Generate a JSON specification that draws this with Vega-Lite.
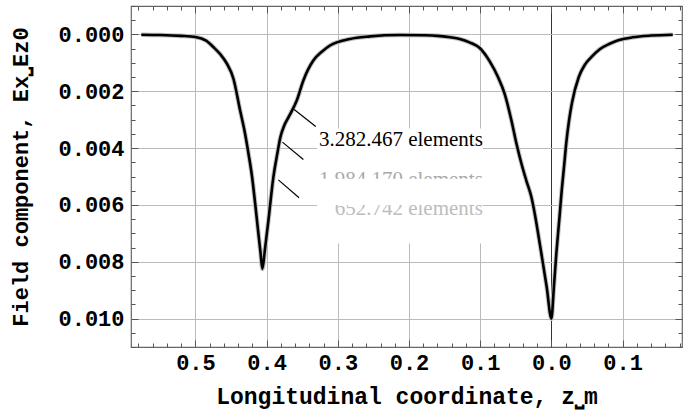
{
  "$schema": "https://vega.github.io/schema/vega-lite/v6.json",
  "width": 551,
  "height": 341,
  "autosize": {"type": "none"},
  "padding": {"left": 131, "top": 6, "right": 9, "bottom": 65},
  "background": "white",
  "config": {
    "view": {"stroke": "#666", "strokeWidth": 1.2},
    "axis": {
      "domain": false,
      "labelFont": "Liberation Mono",
      "labelFontWeight": "bold",
      "labelFontSize": 22,
      "labelColor": "black",
      "titleFont": "Liberation Mono",
      "titleFontWeight": "bold",
      "titleFontSize": 22,
      "titleColor": "black",
      "tickColor": "#555",
      "tickWidth": 1,
      "gridColor": "#bbb",
      "gridWidth": 1
    }
  },
  "datasets": {
    "curve": [
      {"z": -0.576, "Ex": -0.00001},
      {"z": -0.55, "Ex": -0.00002},
      {"z": -0.52, "Ex": -0.00005},
      {"z": -0.5, "Ex": -0.00009},
      {"z": -0.485, "Ex": -0.00022},
      {"z": -0.4746, "Ex": -0.00045},
      {"z": -0.465, "Ex": -0.0007},
      {"z": -0.4558, "Ex": -0.00103},
      {"z": -0.4466, "Ex": -0.00156},
      {"z": -0.4372, "Ex": -0.00268},
      {"z": -0.431, "Ex": -0.0034},
      {"z": -0.4255, "Ex": -0.00419},
      {"z": -0.4205, "Ex": -0.005},
      {"z": -0.4161, "Ex": -0.00595},
      {"z": -0.412, "Ex": -0.0069},
      {"z": -0.4085, "Ex": -0.0077},
      {"z": -0.4059, "Ex": -0.00825},
      {"z": -0.4025, "Ex": -0.0076},
      {"z": -0.3975, "Ex": -0.00655},
      {"z": -0.3905, "Ex": -0.00502},
      {"z": -0.385, "Ex": -0.0042},
      {"z": -0.3805, "Ex": -0.0036},
      {"z": -0.3755, "Ex": -0.00322},
      {"z": -0.3694, "Ex": -0.00292},
      {"z": -0.3576, "Ex": -0.00232},
      {"z": -0.3484, "Ex": -0.00162},
      {"z": -0.3344, "Ex": -0.00092},
      {"z": -0.322, "Ex": -0.0006},
      {"z": -0.311, "Ex": -0.00039},
      {"z": -0.283, "Ex": -0.00016},
      {"z": -0.255, "Ex": -0.00007},
      {"z": -0.213, "Ex": -0.00002},
      {"z": -0.18, "Ex": -0.00003},
      {"z": -0.16, "Ex": -0.00005},
      {"z": -0.1426, "Ex": -0.0001},
      {"z": -0.1286, "Ex": -0.00016},
      {"z": -0.115, "Ex": -0.00028},
      {"z": -0.1006, "Ex": -0.00048},
      {"z": -0.0866, "Ex": -0.00095},
      {"z": -0.075, "Ex": -0.0015},
      {"z": -0.0655, "Ex": -0.0021},
      {"z": -0.0561, "Ex": -0.00303},
      {"z": -0.049, "Ex": -0.00385},
      {"z": -0.042, "Ex": -0.00455},
      {"z": -0.0351, "Ex": -0.00515},
      {"z": -0.028, "Ex": -0.00573},
      {"z": -0.0234, "Ex": -0.0063},
      {"z": -0.018, "Ex": -0.0071},
      {"z": -0.014, "Ex": -0.00772},
      {"z": -0.0065, "Ex": -0.0089},
      {"z": 0.0, "Ex": -0.01},
      {"z": 0.0035, "Ex": -0.0089},
      {"z": 0.007, "Ex": -0.0077},
      {"z": 0.0115, "Ex": -0.0064},
      {"z": 0.0145, "Ex": -0.0055},
      {"z": 0.018, "Ex": -0.0046},
      {"z": 0.021, "Ex": -0.0038},
      {"z": 0.025, "Ex": -0.003},
      {"z": 0.029, "Ex": -0.0024},
      {"z": 0.0385, "Ex": -0.0015},
      {"z": 0.047, "Ex": -0.00107},
      {"z": 0.0561, "Ex": -0.0008},
      {"z": 0.068, "Ex": -0.00052},
      {"z": 0.0818, "Ex": -0.00033},
      {"z": 0.095, "Ex": -0.0002},
      {"z": 0.1144, "Ex": -0.0001},
      {"z": 0.14, "Ex": -0.00004},
      {"z": 0.1705, "Ex": -0.00001}
    ],
    "box": [{"z1": -0.329, "z2": -0.0963, "e1": -0.00331, "e2": -0.00736}],
    "mask": [{"z1": -0.329, "z2": -0.0963, "e1": -0.00508, "e2": -0.006}],
    "leaders": [
      {"z1": -0.3613, "e1": -0.00264, "z2": -0.331, "e2": -0.00324},
      {"z1": -0.3778, "e1": -0.00379, "z2": -0.3484, "e2": -0.0044},
      {"z1": -0.3835, "e1": -0.00512, "z2": -0.3544, "e2": -0.00575}
    ],
    "labels": [
      {"z": -0.0963, "Ex": -0.0037, "text": "3.282.467 elements", "shade": "a"},
      {"z": -0.0963, "Ex": -0.00512, "text": "1.984.170 elements", "shade": "b"},
      {"z": -0.0963, "Ex": -0.00613, "text": "652.742 elements", "shade": "c"}
    ]
  },
  "resolve": {"axis": {"x": "independent", "y": "independent"}},
  "layer": [
    {
      "data": {"name": "box"},
      "mark": {"type": "rect", "fill": "white"},
      "encoding": {
        "x": {
          "field": "z1", "type": "quantitative",
          "scale": {"domain": [-0.5905, 0.1835], "nice": false, "zero": false},
          "axis": {
            "orient": "bottom",
            "title": "Longitudinal coordinate, z⎵m",
            "titleFontSize": 23,
            "values": [-0.5, -0.4, -0.3, -0.2, -0.1, 0, 0.1],
            "tickSize": -7,
            "labelPadding": 12,
            "titlePadding": 12,
            "grid": true,
            "gridColor": {"condition": {"test": "datum.value === 0", "value": "#333"}, "value": "#bbb"},
            "labelExpr": "datum.value < 0 ? '\u00a0' + format(-datum.value, '.1f') : format(datum.value, '.1f')"
          }
        },
        "x2": {"field": "z2"},
        "y": {
          "field": "e1", "type": "quantitative",
          "scale": {"domain": [-0.011, 0.001], "nice": false, "zero": false},
          "axis": {
            "orient": "left",
            "title": "Field component, Ex⎵Ez0",
            "values": [-0.01, -0.008, -0.006, -0.004, -0.002, 0],
            "tickSize": -7,
            "labelPadding": 14,
            "titlePadding": 25,
            "grid": true,
            "labelExpr": "format(abs(datum.value), '.3f')"
          }
        },
        "y2": {"field": "e2"}
      }
    },
    {
      "data": {"name": "curve"},
      "mark": {"type": "line", "stroke": "#c0c0c0", "strokeWidth": 4.6, "interpolate": "monotone"},
      "encoding": {
        "x": {
          "field": "z", "type": "quantitative",
          "scale": {"domain": [-0.5905, 0.1835], "nice": false, "zero": false},
          "axis": {
            "orient": "bottom", "title": null, "labels": false, "grid": false, "tickSize": -4,
            "values": [-0.58, -0.56, -0.54, -0.52, -0.5, -0.48, -0.46, -0.44, -0.42, -0.4, -0.38, -0.36, -0.34, -0.32, -0.3, -0.28, -0.26, -0.24, -0.22, -0.2, -0.18, -0.16, -0.14, -0.12, -0.1, -0.08, -0.06, -0.04, -0.02, 0, 0.02, 0.04, 0.06, 0.08, 0.1, 0.12, 0.14, 0.16, 0.18]
          }
        },
        "y": {
          "field": "Ex", "type": "quantitative",
          "scale": {"domain": [-0.011, 0.001], "nice": false, "zero": false},
          "axis": {
            "orient": "left", "title": null, "labels": false, "grid": false, "tickSize": -4,
            "values": [-0.011, -0.0105, -0.01, -0.0095, -0.009, -0.0085, -0.008, -0.0075, -0.007, -0.0065, -0.006, -0.0055, -0.005, -0.0045, -0.004, -0.0035, -0.003, -0.0025, -0.002, -0.0015, -0.001, -0.0005, 0, 0.0005, 0.001]
          }
        }
      }
    },
    {
      "data": {"name": "curve"},
      "mark": {"type": "line", "stroke": "black", "strokeWidth": 2.6, "interpolate": "monotone"},
      "encoding": {
        "x": {
          "field": "z", "type": "quantitative",
          "scale": {"domain": [-0.5905, 0.1835], "nice": false, "zero": false},
          "axis": {
            "orient": "top", "title": null, "labels": false, "grid": false, "tickSize": -7,
            "values": [-0.5, -0.4, -0.3, -0.2, -0.1, 0, 0.1]
          }
        },
        "y": {
          "field": "Ex", "type": "quantitative",
          "scale": {"domain": [-0.011, 0.001], "nice": false, "zero": false},
          "axis": {
            "orient": "right", "title": null, "labels": false, "grid": false, "tickSize": -7,
            "values": [-0.01, -0.008, -0.006, -0.004, -0.002, 0]
          }
        }
      }
    },
    {
      "data": {"name": "leaders"},
      "mark": {"type": "rule", "stroke": "black", "strokeWidth": 1.2},
      "encoding": {
        "x": {
          "field": "z1", "type": "quantitative",
          "scale": {"domain": [-0.5905, 0.1835], "nice": false, "zero": false},
          "axis": {
            "orient": "top", "title": null, "labels": false, "grid": false, "tickSize": -4,
            "values": [-0.58, -0.56, -0.54, -0.52, -0.5, -0.48, -0.46, -0.44, -0.42, -0.4, -0.38, -0.36, -0.34, -0.32, -0.3, -0.28, -0.26, -0.24, -0.22, -0.2, -0.18, -0.16, -0.14, -0.12, -0.1, -0.08, -0.06, -0.04, -0.02, 0, 0.02, 0.04, 0.06, 0.08, 0.1, 0.12, 0.14, 0.16, 0.18]
          }
        },
        "x2": {"field": "z2"},
        "y": {
          "field": "e1", "type": "quantitative",
          "scale": {"domain": [-0.011, 0.001], "nice": false, "zero": false},
          "axis": {
            "orient": "right", "title": null, "labels": false, "grid": false, "tickSize": -4,
            "values": [-0.011, -0.0105, -0.01, -0.0095, -0.009, -0.0085, -0.008, -0.0075, -0.007, -0.0065, -0.006, -0.0055, -0.005, -0.0045, -0.004, -0.0035, -0.003, -0.0025, -0.002, -0.0015, -0.001, -0.0005, 0, 0.0005, 0.001]
          }
        },
        "y2": {"field": "e2"}
      }
    },
    {
      "data": {"name": "labels"},
      "mark": {"type": "text", "align": "right", "baseline": "middle", "font": "Liberation Serif", "fontSize": 21},
      "encoding": {
        "x": {"field": "z", "type": "quantitative", "axis": null, "scale": {"domain": [-0.5905, 0.1835], "nice": false, "zero": false}},
        "y": {"field": "Ex", "type": "quantitative", "axis": null, "scale": {"domain": [-0.011, 0.001], "nice": false, "zero": false}},
        "text": {"field": "text"},
        "color": {
          "field": "shade", "type": "nominal", "legend": null,
          "scale": {"domain": ["a", "b", "c"], "range": ["#000000", "#a8a8a8", "#bdbdbd"]}
        }
      }
    },
    {
      "data": {"name": "mask"},
      "mark": {"type": "rect", "fill": "white"},
      "encoding": {
        "x": {"field": "z1", "type": "quantitative", "axis": null, "scale": {"domain": [-0.5905, 0.1835], "nice": false, "zero": false}},
        "x2": {"field": "z2"},
        "y": {"field": "e1", "type": "quantitative", "axis": null, "scale": {"domain": [-0.011, 0.001], "nice": false, "zero": false}},
        "y2": {"field": "e2"}
      }
    }
  ]
}
